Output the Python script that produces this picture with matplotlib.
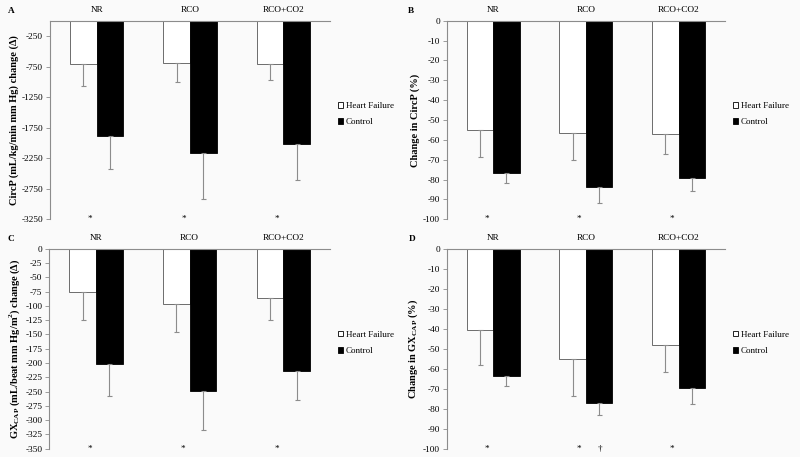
import matplotlib.pyplot as plt
import matplotlib.patches as mpatches
import numpy as np

plt.rcParams['font.family'] = ['Liberation Serif', 'DejaVu Serif']
plt.rcParams['axes.unicode_minus'] = False
plt.rcParams['mathtext.fontset'] = 'custom'
plt.rcParams['mathtext.rm'] = 'Liberation Serif'
plt.rcParams['mathtext.bf'] = 'Liberation Serif:bold'

groups = ["NR", "RCO", "RCO+CO2"]

# panel A: CircP change (absolute)
a_hf = [-700, -685, -715]
a_hf_err = [375, 320, 262]
a_ctl = [-1890, -2157, -2016]
a_ctl_err = [530, 755, 590]

# panel B: CircP change (%)
b_hf = [-55.0, -56.5, -56.9]
b_hf_err = [13.6, 13.4, 10.0]
b_ctl = [-76.8, -83.8, -79.4]
b_ctl_err = [5.1, 8.0, 6.1]

# panel C: GXcap change (absolute)
c_hf = [-76.4, -97.4, -85.8]
c_hf_err = [48.4, 47.9, 38.5]
c_ctl = [-202.4, -249.7, -214.1]
c_ctl_err = [55.5, 67.7, 51.4]

# panel D: GXcap change (%)
d_hf = [-40.7, -55.3, -48.3]
d_hf_err = [17.6, 18.4, 13.5]
d_ctl = [-63.7, -77.2, -69.8]
d_ctl_err = [5.0, 6.1, 7.9]

panels = [
    ("A", a_hf, a_hf_err, a_ctl, a_ctl_err, -3250, np.arange(-3250, 0, 500),
     "CircP (mL/kg/min mm Hg) change (Δ)", [0.0625, 0.520, 0.350, 0.4346]),
    ("B", b_hf, b_hf_err, b_ctl, b_ctl_err, -100, np.arange(-100, 1, 10),
     "Change in CircP (%)", [0.5584, 0.520, 0.3477, 0.4346]),
    ("C", c_hf, c_hf_err, c_ctl, c_ctl_err, -350, np.arange(-350, 1, 25),
     r"GX$_{\mathbf{CAP}}$ (mL/beat mm Hg/m$^{\mathbf{2}}$) change (Δ)", [0.0615, 0.0182, 0.351, 0.4376]),
    ("D", d_hf, d_hf_err, d_ctl, d_ctl_err, -100, np.arange(-100, 1, 10),
     r"Change in GX$_{\mathbf{CAP}}$ (%)", [0.5584, 0.0182, 0.3477, 0.4376]),
]

bg = "#fafafa"
grey = "#8c8c8c"
fs = 6.7
fig = plt.figure(figsize=(8, 4.57), dpi=100, facecolor=bg)

x = np.arange(len(groups))
w = 0.285
ekw = dict(elinewidth=0.8, capsize=1.8, capthick=0.8, zorder=1)

for letter, hf, hf_err, ctl, ctl_err, ymin, ticks, ylabel, pos in panels:
    ax = fig.add_axes(pos)
    ax.set_facecolor(bg)
    ax.bar(x - w / 2, hf, w, color="white", edgecolor="#555555", linewidth=0.6,
           yerr=[hf_err, np.zeros(3)], ecolor=grey, error_kw=ekw)
    ax.bar(x + w / 2, ctl, w, color="black", edgecolor="black", linewidth=0.6,
           yerr=[ctl_err, np.zeros(3)], ecolor=grey, error_kw=ekw)
    ax.set_xlim(-0.5, 2.5)
    ax.set_ylim(ymin, 0)
    ax.set_yticks(ticks)
    ax.set_yticklabels([str(int(t)) for t in ticks])
    ax.xaxis.tick_top()
    ax.set_xticks(x)
    ax.set_xticklabels(groups)
    ax.tick_params(axis="x", length=0, pad=4.5, labelsize=fs)
    ax.tick_params(axis="y", length=3, width=0.6, color=grey, pad=2, labelsize=fs)
    for s in ["right", "bottom"]:
        ax.spines[s].set_visible(False)
    for s in ["left", "top"]:
        ax.spines[s].set_color(grey)
        ax.spines[s].set_linewidth(0.8)
    ax.set_ylabel(ylabel, fontsize=7.5, fontweight="bold", labelpad=2)
    for i in range(3):
        ax.text(x[i] - 0.07, ymin, "*", ha="center", va="center", fontsize=fs)
    if letter == "D":
        ax.text(x[1] + 0.15, ymin, "†", ha="center", va="center", fontsize=fs)
    fig.text(pos[0] - 0.052 if letter in "AC" else pos[0] - 0.048,
             pos[1] + pos[3] + 0.022, letter, fontsize=fs, fontweight="bold", va="center")

    handles = [mpatches.Patch(facecolor="white", edgecolor="black", linewidth=0.6, label="Heart Failure"),
               mpatches.Patch(facecolor="black", edgecolor="black", linewidth=0.6, label="Control")]
    lx = pos[0] + pos[2] + 0.010
    ly = pos[1] + pos[3] * 0.62 - 0.013
    ax.legend(handles=handles, loc="upper left", bbox_to_anchor=(lx, ly), bbox_transform=fig.transFigure,
              frameon=False, fontsize=6.5, handlelength=0.6, handleheight=0.6, handletextpad=0.3,
              labelspacing=0.9, borderpad=0, borderaxespad=0)

fig.savefig("out.png", dpi=100, facecolor=bg)
